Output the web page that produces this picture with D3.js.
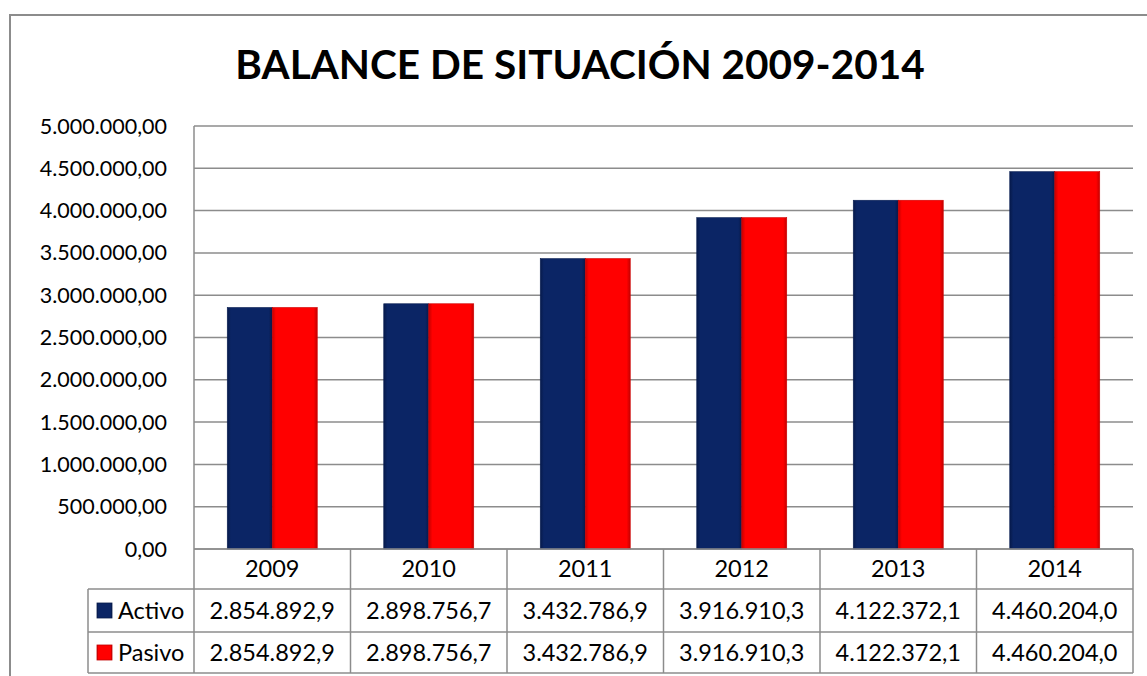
<!DOCTYPE html>
<html>
<head>
<meta charset="utf-8">
<script src="https://cdn.jsdelivr.net/npm/d3@7"></script>
<style>
  body { margin: 0; background: #fff; }
  svg { display: block; font-family: Lato, "Open Sans", sans-serif; }
</style>
</head>
<body>
<svg id="chart" width="1147" height="676"></svg>
<script>
const years = ['2009', '2010', '2011', '2012', '2013', '2014'];
const seriesNames = ['Activo', 'Pasivo'];
const activo = [2854892.9, 2898756.7, 3432786.9, 3916910.3, 4122372.1, 4460204.0];
const pasivo = [2854892.9, 2898756.7, 3432786.9, 3916910.3, 4122372.1, 4460204.0];
const yTicks = [0, 500000, 1000000, 1500000, 2000000, 2500000, 3000000, 3500000, 4000000, 4500000, 5000000];

const svg = d3.select('#chart');
const plot = { left: 194, right: 1133, top: 126, bottom: 549 };
const rowH = [40, 43, 41];
const legendLeft = 88;
const gridColor = '#8c8c8c';

const es = d3.formatLocale({ decimal: ',', thousands: '.', grouping: [3], currency: ['', '€'] });
const fmtAxis = es.format(',.2f');
const fmtTable = es.format(',.1f');

const x = d3.scaleBand().domain(years).range([plot.left, plot.right]);
const xs = d3.scaleBand().domain(seriesNames).range([0, 90]);
const y = d3.scaleLinear().domain([0, 5000000]).range([plot.bottom, plot.top]);

// gradients for the bevelled bars
const defs = svg.append('defs');
function barGradient(id, edge, mid) {
  const g = defs.append('linearGradient').attr('id', id).attr('x1', 0).attr('x2', 1).attr('y1', 0).attr('y2', 0);
  g.append('stop').attr('offset', '0%').attr('stop-color', edge);
  g.append('stop').attr('offset', '8%').attr('stop-color', mid);
  g.append('stop').attr('offset', '92%').attr('stop-color', mid);
  g.append('stop').attr('offset', '100%').attr('stop-color', edge);
}
barGradient('g-activo', '#071a4a', '#0b2565');
barGradient('g-pasivo', '#c40000', '#ff0000');
const colors = { Activo: 'url(#g-activo)', Pasivo: 'url(#g-pasivo)' };
const flat = { Activo: '#0b2565', Pasivo: '#ff0000' };

// outer chart border (runs off the right and bottom of the picture)
svg.append('rect')
  .attr('x', 10).attr('y', 15).attr('width', 1200).attr('height', 700)
  .attr('fill', 'none').attr('stroke', '#8c8c8c').attr('stroke-width', 2);

svg.append('text')
  .attr('x', 580).attr('y', 79)
  .attr('text-anchor', 'middle')
  .attr('font-size', 40.5).attr('font-weight', 'bold')
  .text('BALANCE DE SITUACIÓN 2009-2014');

// gridlines
svg.append('g').selectAll('line')
  .data(yTicks)
  .join('line')
  .attr('x1', plot.left).attr('x2', plot.right)
  .attr('y1', (d) => y(d)).attr('y2', (d) => y(d))
  .attr('stroke', gridColor).attr('stroke-width', 1.5);

svg.append('line')
  .attr('x1', plot.left).attr('x2', plot.left)
  .attr('y1', plot.top).attr('y2', plot.bottom)
  .attr('stroke', gridColor).attr('stroke-width', 1.5);

// y axis labels
svg.append('g').selectAll('text')
  .data(yTicks)
  .join('text')
  .attr('x', 167).attr('y', (d) => y(d))
  .attr('dy', '0.35em')
  .attr('text-anchor', 'end')
  .attr('font-size', 21.5)
  .text((d) => fmtAxis(d));

// bars
const rows = years.map((yr, i) => ({ year: yr, values: [
  { key: 'Activo', value: activo[i] },
  { key: 'Pasivo', value: pasivo[i] }
] }));

const groups = svg.append('g').selectAll('g')
  .data(rows)
  .join('g')
  .attr('transform', (d) => `translate(${x(d.year) + (x.bandwidth() - 90) / 2},0)`);

groups.selectAll('rect')
  .data((d) => d.values)
  .join('rect')
  .attr('x', (d) => xs(d.key))
  .attr('width', xs.bandwidth())
  .attr('y', (d) => y(d.value))
  .attr('height', (d) => y(0) - y(d.value))
  .attr('fill', (d) => colors[d.key])
  .attr('stroke', (d) => d3.color(flat[d.key]).darker(0.6))
  .attr('stroke-width', 0.6);

// data table
const t = svg.append('g');
const yHead = plot.bottom;
const yR1 = yHead + rowH[0];
const yR2 = yR1 + rowH[1];
const yR3 = yR2 + rowH[2];
const tableStroke = (sel) => sel.attr('stroke', gridColor).attr('stroke-width', 1.5).attr('fill', 'none');
const tableFont = 23.5;

// horizontal lines
t.append('line').attr('x1', plot.left).attr('x2', plot.right).attr('y1', yHead).attr('y2', yHead).call(tableStroke);
[yR1, yR2, yR3].forEach((yy) => {
  t.append('line').attr('x1', legendLeft).attr('x2', plot.right).attr('y1', yy).attr('y2', yy).call(tableStroke);
});
// vertical lines
const bounds = years.map((yr) => x(yr)).concat([plot.right]);
t.selectAll('line.v')
  .data(bounds)
  .join('line')
  .attr('class', 'v')
  .attr('x1', (d) => d).attr('x2', (d) => d)
  .attr('y1', yHead).attr('y2', yR3)
  .call(tableStroke);
t.append('line').attr('x1', legendLeft).attr('x2', legendLeft).attr('y1', yR1).attr('y2', yR3).call(tableStroke);

// header
t.selectAll('text.yr')
  .data(years)
  .join('text')
  .attr('class', 'yr')
  .attr('x', (d) => x(d) + x.bandwidth() / 2)
  .attr('y', yHead + rowH[0] / 2)
  .attr('dy', '0.35em')
  .attr('text-anchor', 'middle')
  .attr('font-size', tableFont)
  .text((d) => d);

const tableRows = [
  { key: 'Activo', values: activo, top: yR1, h: rowH[1] },
  { key: 'Pasivo', values: pasivo, top: yR2, h: rowH[2] }
];

tableRows.forEach((r) => {
  const cy = r.top + r.h / 2;
  t.append('rect')
    .attr('x', 97).attr('y', cy - 7.5).attr('width', 15).attr('height', 15)
    .attr('fill', colors[r.key])
    .attr('stroke', d3.color(flat[r.key]).darker(0.8)).attr('stroke-width', 0.8);
  t.append('text')
    .attr('x', 118).attr('y', cy).attr('dy', '0.35em')
    .attr('font-size', tableFont)
    .text(r.key);
  t.selectAll(null)
    .data(r.values)
    .join('text')
    .attr('x', (d, i) => x(years[i]) + x.bandwidth() / 2)
    .attr('y', cy).attr('dy', '0.35em')
    .attr('text-anchor', 'middle')
    .attr('font-size', tableFont)
    .text((d) => fmtTable(d));
});
</script>
</body>
</html>
